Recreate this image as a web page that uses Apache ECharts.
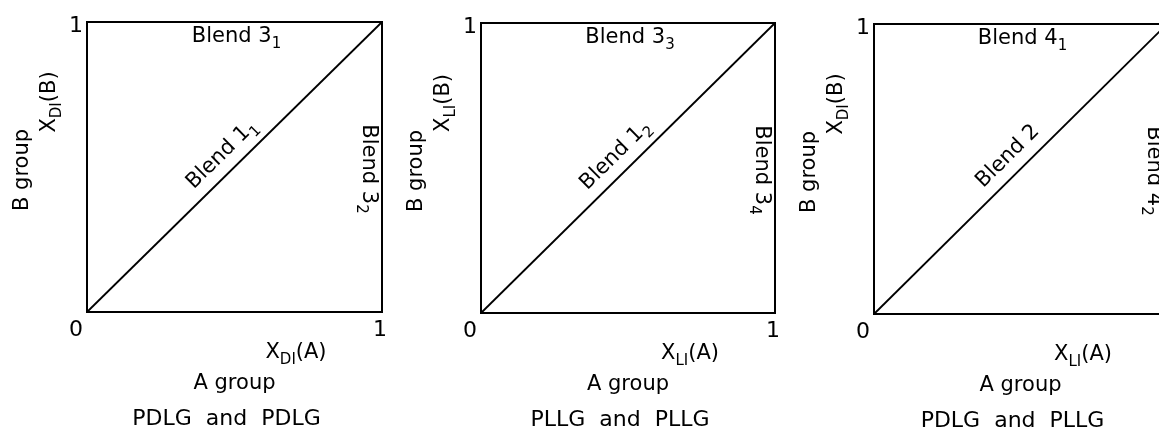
<!DOCTYPE html>
<html>
<head>
<meta charset="utf-8">
<script src="https://cdn.jsdelivr.net/npm/echarts@6/dist/echarts.min.js"></script>
<style>
html,body{margin:0;padding:0;background:#fff;}
#chart{width:1159px;height:432px;}
</style>
</head>
<body>
<div id="chart"></div>
<script>
// ---- data ----
const diagX = [0, 1];
const diagY = [0, 1];
const xTickValues = [0, 1];
const yTickValues = [0, 1];
const diagonalMain = ['Blend 1', 'Blend 1', 'Blend 2'];
const diagonalSub = ['1', '2', ''];
const topMain = ['Blend 3', 'Blend 3', 'Blend 4'];
const topSub = ['1', '3', '1'];
const rightMain = ['Blend 3', 'Blend 3', 'Blend 4'];
const rightSub = ['2', '4', '2'];
const xVarSub = ['DI', 'LI', 'LI'];
const yVarSub = ['DI', 'LI', 'DI'];
const xGroupName = ['A group', 'A group', 'A group'];
const yGroupName = ['B group', 'B group', 'B group'];
const captions = ['PDLG  and  PDLG', 'PLLG  and  PLLG', 'PDLG  and  PLLG'];

// ---- layout (pixels) ----
const FONT = 'DejaVu Sans';
const TICK = 22;
const grids = [
  {left: 87, top: 22, width: 295, height: 290},
  {left: 481, top: 23, width: 294, height: 290},
  {left: 874, top: 24, width: 293, height: 290}
];

const rich = {
  m: {fontSize: 21, fontFamily: FONT, color: '#000', lineHeight: 30},
  c: {fontSize: 22, fontFamily: FONT, color: '#000', lineHeight: 30},
  s: {fontSize: 15, fontFamily: FONT, color: '#000', lineHeight: 16, verticalAlign: 'bottom'}
};
function sub(main, s) {
  return '{m|' + main + '}' + (s ? '{s|' + s + '}' : '');
}

const option = {
  backgroundColor: '#fff',
  animation: false,
  grid: grids.map(g => Object.assign({show: true, borderColor: '#000', borderWidth: 2, backgroundColor: 'transparent', outerBoundsMode: 'none', containLabel: false}, g)),
  xAxis: grids.map((g, i) => ({
    gridIndex: i, type: 'value', min: 0, max: 1, interval: 1,
    axisLine: {show: false}, axisTick: {show: false}, splitLine: {show: false},
    axisLabel: {
      margin: 7, color: '#000', fontSize: TICK, fontFamily: FONT,
      formatter: v => v === xTickValues[0] ? '{l|' + v + '}' : '{r|' + v + '}',
      rich: {
        l: {fontSize: TICK, fontFamily: FONT, color: '#000', padding: [0, 22, 0, 0]},
        r: {fontSize: TICK, fontFamily: FONT, color: '#000', padding: [0, 4, 0, 0]}
      }
    }
  })),
  yAxis: grids.map((g, i) => ({
    gridIndex: i, type: 'value', min: 0, max: 1, interval: 1,
    axisLine: {show: false}, axisTick: {show: false}, splitLine: {show: false},
    axisLabel: {
      margin: 4, color: '#000', fontSize: TICK, fontFamily: FONT,
      formatter: v => v === yTickValues[1] ? '{t|' + v + '}' : '',
      rich: {t: {fontSize: TICK, fontFamily: FONT, color: '#000', padding: [8, 0, 0, 0]}}
    }
  })),
  series: grids.map((g, i) => ({
    type: 'line', xAxisIndex: i, yAxisIndex: i,
    data: diagX.map((x, k) => [x, diagY[k]]),
    symbol: 'none',
    lineStyle: {color: '#000', width: 1.8},
    markLine: {
      silent: true, symbol: ['none', 'none'],
      lineStyle: {color: 'rgba(0,0,0,0)', width: 1},
      data: [[{coord: [diagX[0], diagY[0]]}, {coord: [diagX[1], diagY[1]]}]],
      label: {
        show: true, position: 'insideMiddleTop', distance: 3, color: '#000',
        formatter: sub(diagonalMain[i], diagonalSub[i]),
        rich: rich
      }
    }
  })),
  graphic: []
};

function txt(x, y, text, rot) {
  return {
    type: 'text', x: x, y: y, rotation: rot || 0,
    style: {text: text, rich: rich, align: 'center', verticalAlign: 'middle', fill: '#000', font: '21px ' + FONT}
  };
}

grids.forEach((g, i) => {
  const L = g.left, T = g.top, W = g.width, H = g.height;
  const gr = option.graphic;
  gr.push(txt(L + W / 2 + 2, T + 15, sub(topMain[i], topSub[i])));
  gr.push(txt(L + W - 14, T + H / 2 + 2, sub(rightMain[i], rightSub[i]), -Math.PI / 2));
  gr.push(txt(L - 37, T + 80, '{m|X}{s|' + yVarSub[i] + '}{m|(B)}', Math.PI / 2));
  gr.push(txt(L - 64, T + 148, '{m|' + yGroupName[i] + '}', Math.PI / 2));
  gr.push(txt(L + 209, T + 331, '{m|X}{s|' + xVarSub[i] + '}{m|(A)}'));
  gr.push(txt(L + W / 2, T + 362, '{m|' + xGroupName[i] + '}'));
  gr.push(txt(L + W / 2 - 8, T + 397, '{c|' + captions[i] + '}'));
});

const chart = echarts.init(document.getElementById('chart'), null, {renderer: 'canvas'});
chart.setOption(option);
</script>
</body>
</html>
